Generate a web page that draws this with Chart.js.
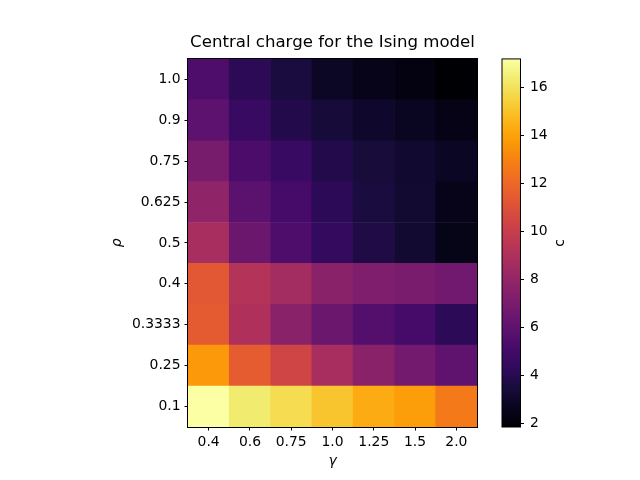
<!DOCTYPE html>
<html>
<head>
<meta charset="utf-8">
<script src="https://cdn.jsdelivr.net/npm/chart.js@4"></script>
<style>
  html, body { margin: 0; padding: 0; background: #fff; }
  canvas { display: block; }
</style>
</head>
<body>
<canvas id="heat" width="640" height="480"></canvas>
<script>
// gamma along x, rho along y (bottom -> top)
const gammas = ['0.4', '0.6', '0.75', '1.0', '1.25', '1.5', '2.0'];
const rhos = ['0.1', '0.25', '0.3333', '0.4', '0.5', '0.625', '0.75', '0.9', '1.0'];

// central charge c, one row per rho (same order as rhos)
const row01 = [17.18, 16.35, 15.8, 15.1, 14.3, 13.85, 12.65];
const row025 = [13.7, 11.5, 10.4, 8.75, 7.6, 6.75, 6.0];
const row03333 = [11.45, 9.05, 7.6, 6.5, 5.6, 5.1, 4.2];
const row04 = [11.3, 9.2, 8.6, 7.6, 7.2, 7.0, 6.7];
const row05 = [8.75, 6.45, 5.4, 4.45, 3.75, 3.2, 2.45];
const row0625 = [7.85, 5.85, 5.1, 4.2, 3.55, 3.2, 2.55];
const row075 = [6.9, 5.3, 4.6, 3.85, 3.45, 3.15, 2.8];
const row09 = [5.9, 4.6, 3.85, 3.4, 3.05, 2.75, 2.4];
const row10 = [5.4, 4.15, 3.55, 2.9, 2.55, 2.25, 1.85];
const cRows = [row01, row025, row03333, row04, row05, row0625, row075, row09, row10];

const cbTicks = [2, 4, 6, 8, 10, 12, 14, 16];

const cMin = Math.min(...cRows.flat());
const cMax = Math.max(...cRows.flat());

// inferno colormap, 20 evenly spaced samples
const inferno = ['#000004', '#08051d', '#180c3c', '#2f0a5b', '#450a69', '#5c126e', '#71196e',
                 '#87216b', '#9b2964', '#b1325a', '#c43c4e', '#d74b3f', '#e65d2f', '#f17020',
                 '#f8870e', '#fca108', '#fbba1f', '#f6d543', '#f1ed71', '#fcffa4'];
const nSeg = inferno.length - 1;

function hexRgb(h) {
  return [parseInt(h.slice(1, 3), 16), parseInt(h.slice(3, 5), 16), parseInt(h.slice(5, 7), 16)];
}

function cmap(v) {
  let t = (v - cMin) / (cMax - cMin);
  t = Math.max(0, Math.min(1, t));
  const f = t * nSeg;
  const i = Math.min(nSeg - 1, Math.floor(f));
  const a = hexRgb(inferno[i]), b = hexRgb(inferno[i + 1]);
  const k = f - i;
  const c = a.map((x, j) => Math.round(x + (b[j] - x) * k));
  return 'rgb(' + c.join(',') + ')';
}

const datasets = cRows.map((row, i) => ({
  label: 'rho = ' + rhos[i],
  data: row.map(() => [i, i + 1]),
  backgroundColor: row.map(v => cmap(v)),
  borderWidth: 0,
  barPercentage: 1,
  categoryPercentage: 1,
  grouped: false
}));

const font = { family: 'DejaVu Sans', size: 13.9 };

const colorbar = {
  id: 'colorbar',
  afterDraw(chart) {
    const c = chart.ctx;
    const a = chart.chartArea;
    const s = chart.scales.cb;
    // frame round the heatmap
    c.save();
    c.strokeStyle = '#000';
    c.lineWidth = 1;
    c.strokeRect(Math.round(a.left) - 0.5, Math.round(a.top) - 0.5,
                 Math.round(a.right - a.left) + 1, Math.round(a.bottom - a.top) + 1);

    const x0 = a.right + 25, x1 = a.right + 43.5;
    const yTop = s.getPixelForValue(cMax), yBot = s.getPixelForValue(cMin);
    const g = c.createLinearGradient(0, yBot, 0, yTop);
    inferno.forEach((col, i) => g.addColorStop(i / nSeg, col));
    c.fillStyle = g;
    c.fillRect(x0, yTop, x1 - x0, yBot - yTop);
    c.strokeRect(x0, yTop, x1 - x0, yBot - yTop);
    // tick marks
    c.beginPath();
    cbTicks.forEach(t => {
      const y = Math.round(s.getPixelForValue(t)) + 0.5;
      c.moveTo(x1, y);
      c.lineTo(x1 + 3.5, y);
    });
    c.stroke();
    // colorbar label, reading upwards
    c.translate(s.right - 12, (s.top + s.bottom) / 2);
    c.rotate(-Math.PI / 2);
    c.fillStyle = '#000';
    c.font = '13.9px "DejaVu Sans"';
    c.textAlign = 'center';
    c.textBaseline = 'middle';
    c.fillText('c', 0, 0);
    c.restore();
  }
};

new Chart(document.getElementById('heat'), {
  type: 'bar',
  data: { labels: gammas, datasets: datasets },
  plugins: [colorbar],
  options: {
    responsive: false,
    animation: false,
    layout: { padding: { left: 105, right: 68, top: 33, bottom: 6 } },
    plugins: {
      legend: { display: false },
      tooltip: { enabled: false },
      title: {
        display: true,
        text: 'Central charge for the Ising model',
        fullSize: false,
        color: '#000',
        font: { family: 'DejaVu Sans', size: 16.6, weight: 'normal' },
        padding: { top: 0, bottom: 6 }
      }
    },
    scales: {
      x: {
        type: 'category',
        offset: true,
        grid: { display: true, offset: false, drawOnChartArea: false, color: '#000', tickLength: 3.5 },
        border: { display: false },
        ticks: { color: '#000', font: font, padding: 4, maxRotation: 0 },
        title: { display: true, text: 'γ', color: '#000', font: { family: 'DejaVu Sans', size: 13.9, style: 'italic' }, padding: { top: 4, bottom: 4 } },
        afterFit: s => { s.height = 47; }
      },
      y: {
        type: 'linear',
        min: 0,
        max: rhos.length,
        afterBuildTicks: s => { s.ticks = rhos.map((r, i) => ({ value: i + 0.5 })); },
        grid: { display: true, drawOnChartArea: false, color: '#000', tickLength: 3.5 },
        border: { display: false },
        ticks: { color: '#000', font: font, padding: 4, callback: (v, i) => rhos[i] },
        title: { display: true, text: 'ρ', color: '#000', font: { family: 'DejaVu Sans', size: 13.9, style: 'italic' }, padding: { top: 4, bottom: 4 } },
        afterFit: s => { s.width = 83; s.paddingTop = 0; s.paddingBottom = 0; }
      },
      cb: {
        type: 'linear',
        position: 'right',
        min: cMin,
        max: cMax,
        afterBuildTicks: s => { s.ticks = cbTicks.map(v => ({ value: v })); },
        grid: { display: false, drawTicks: false },
        border: { display: false },
        ticks: { color: '#000', font: font, padding: 53 },
        title: { display: false },
        afterFit: s => { s.width = 95; s.paddingTop = 0; s.paddingBottom = 0; }
      }
    }
  }
});
</script>
</body>
</html>
